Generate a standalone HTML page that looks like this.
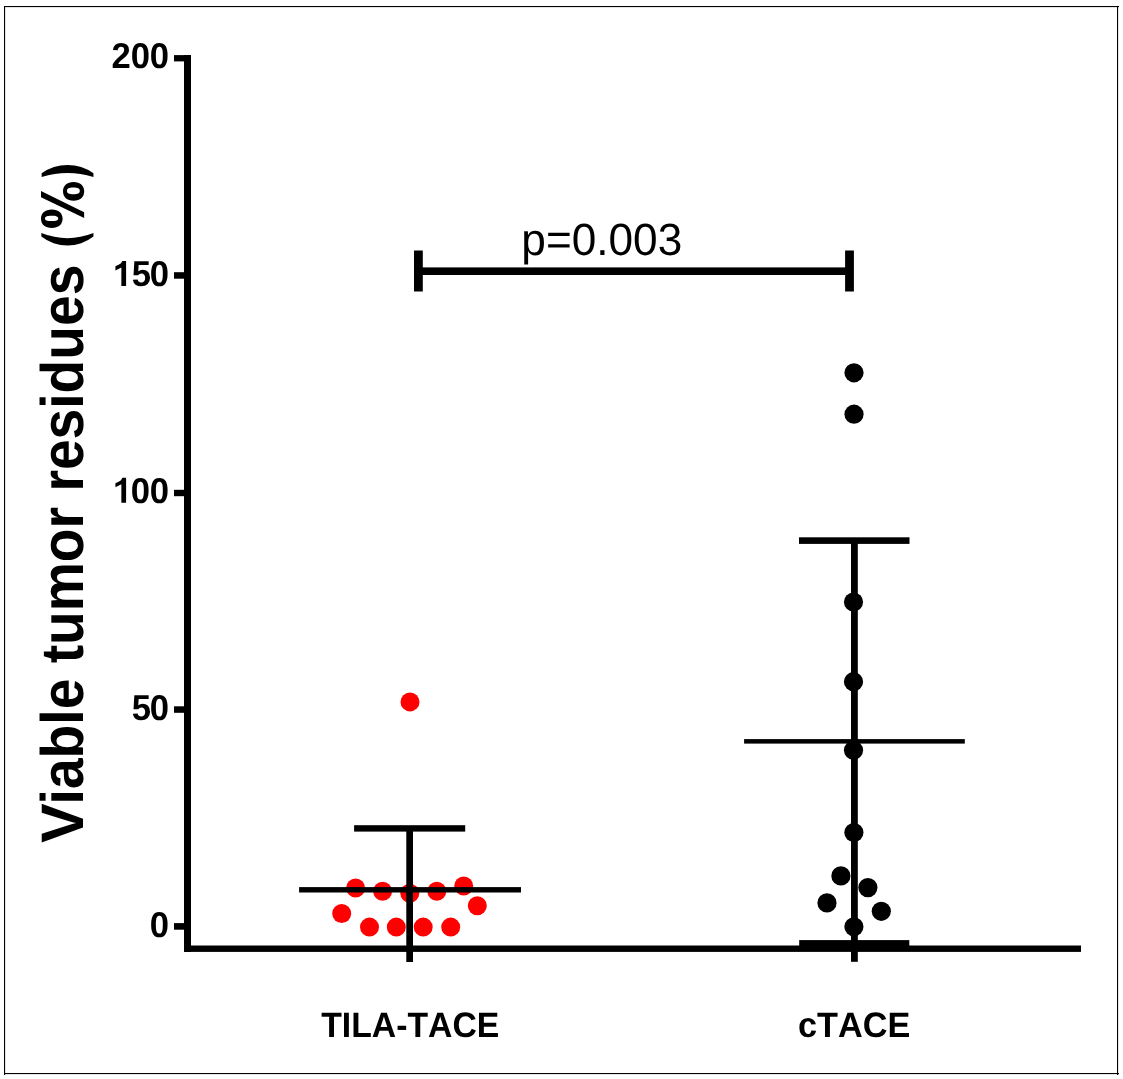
<!DOCTYPE html>
<html><head><meta charset="utf-8">
<style>
html,body{margin:0;padding:0;background:#fff;}
body{width:1123px;height:1079px;overflow:hidden;position:relative;}
svg{position:absolute;left:0;top:0;will-change:transform;}
text{font-family:"Liberation Sans",sans-serif;text-rendering:geometricPrecision;font-kerning:none;}
</style></head>
<body>
<svg width="1123" height="1079" viewBox="0 0 1123 1079">
<g fill="#000">
<rect x="4" y="6" width="1115" height="1.1"/>
<rect x="4" y="6" width="1.1" height="1069"/>
<rect x="1117" y="6" width="1.1" height="1069"/>
<rect x="4" y="1073" width="1115" height="1.1"/>
</g>
<!-- axes -->
<rect x="184" y="55" width="7" height="897" fill="#000"/>
<rect x="184" y="945.5" width="897" height="6.4" fill="#000"/>
<!-- ticks -->
<rect x="174" y="55.1" width="12" height="6.3" fill="#000"/>
<rect x="174" y="272.2" width="12" height="6.5" fill="#000"/>
<rect x="174" y="489.8" width="12" height="6.4" fill="#000"/>
<rect x="174" y="706.3" width="12" height="6.5" fill="#000"/>
<rect x="174" y="923.1" width="12" height="6.6" fill="#000"/>
<!-- tick labels -->
<g font-weight="bold" font-size="35.9" text-anchor="middle">
<text transform="translate(121.1,68.4) scale(0.965,1)">2</text>
<text transform="translate(140.3,68.4) scale(0.965,1)">0</text>
<text transform="translate(159.4,68.4) scale(0.965,1)">0</text>
<text transform="translate(141.4,286.1) scale(0.965,1)">5</text>
<text transform="translate(159.4,286.1) scale(0.965,1)">0</text>
<text transform="translate(140.3,502.7) scale(0.965,1)">0</text>
<text transform="translate(159.4,502.7) scale(0.965,1)">0</text>
<text transform="translate(141.4,720) scale(0.965,1)">5</text>
<text transform="translate(159.4,720) scale(0.965,1)">0</text>
<text transform="translate(159.4,937) scale(0.965,1)">0</text>
</g>
<g fill="#000">
<path transform="translate(126.1,285.95)" d="M0,-25 L0,0 L-4.74,0 L-4.74,-18.4 L-10.68,-15.4 L-10.68,-19.6 C-8.6,-20.4 -6.3,-21.5 -5.1,-22.6 L-3.7,-25 Z"/>
<path transform="translate(126.1,502.75)" d="M0,-25 L0,0 L-4.74,0 L-4.74,-18.4 L-10.68,-15.4 L-10.68,-19.6 C-8.6,-20.4 -6.3,-21.5 -5.1,-22.6 L-3.7,-25 Z"/>
</g>
<!-- y label -->
<text font-weight="bold" font-size="60" transform="translate(82.6,843.1) rotate(-90) scale(0.99,1)">V</text>
<text font-weight="bold" font-size="60" transform="translate(82.6,804.45) rotate(-90) scale(0.92,1)">iable tumor residues</text>
<g fill="#000" fill-rule="evenodd">
<path d="M41.37,233.1 A71.6,71.6 0 0,0 93.45,233.1 L93.45,236.57 A42.3,42.3 0 0,1 41.37,236.57 Z"/>
<path d="M41.65,173.3 A45,45 0 0,1 93.45,173.3 L93.45,177.07 A84.4,84.4 0 0,0 41.65,177.07 Z"/>
<path d="M63.00,191.35 C63.00,185.49 67.03,181.90 73.60,181.90 C80.17,181.90 84.20,185.49 84.20,191.35 C84.20,197.21 80.17,200.80 73.60,200.80 C67.03,200.80 63.00,197.21 63.00,191.35 Z M67.00,190.90 C67.00,188.59 68.92,187.60 73.40,187.60 C77.88,187.60 79.80,188.59 79.80,190.90 C79.80,193.21 77.88,194.20 73.40,194.20 C68.92,194.20 67.00,193.21 67.00,190.90 Z "/>
<path d="M41.00,218.85 C41.00,213.11 45.10,209.60 51.80,209.60 C58.50,209.60 62.60,213.11 62.60,218.85 C62.60,224.59 58.50,228.10 51.80,228.10 C45.10,228.10 41.00,224.59 41.00,218.85 Z M45.00,218.40 C45.00,216.51 46.98,215.70 51.60,215.70 C56.22,215.70 58.20,216.51 58.20,218.40 C58.20,220.29 56.22,221.10 51.60,221.10 C46.98,221.10 45.00,220.29 45.00,218.40 Z "/>
<path d="M41,191.1 L84.15,212.2 L84.15,218 L41,197.3 Z"/>
</g>
<!-- x labels -->
<g font-weight="bold" font-size="35.3">
<text transform="translate(321.25,1037) scale(0.956,1)">TILA-TACE</text>
<text transform="translate(797.9,1037) scale(0.971,1)">cTACE</text>
</g>
<!-- significance -->
<rect x="416" y="267.4" width="433" height="7.6" fill="#000"/>
<rect x="414" y="250.5" width="8.8" height="41" fill="#000"/>
<rect x="845.1" y="250.5" width="8.8" height="41" fill="#000"/>
<text transform="translate(521.3,255) scale(0.978,1)" font-size="45.2">p=0.003</text>
<!-- group 1 dots -->
<g fill="#f00">
<circle cx="341.7" cy="913.5" r="9.5"/>
<circle cx="355.6" cy="888" r="9.5"/>
<circle cx="382.6" cy="891.3" r="9.5"/>
<circle cx="409.8" cy="893.2" r="9.5"/>
<circle cx="436.8" cy="891.3" r="9.5"/>
<circle cx="463.7" cy="886" r="9.5"/>
<circle cx="477.3" cy="905.7" r="9.5"/>
<circle cx="369.5" cy="927.1" r="9.5"/>
<circle cx="396.3" cy="927.1" r="9.5"/>
<circle cx="423.2" cy="927.1" r="9.5"/>
<circle cx="450.7" cy="927.1" r="9.5"/>
<circle cx="410" cy="701.9" r="9.5"/>
</g>
<!-- group 1 bars -->
<g fill="#000">
<rect x="406.3" y="828" width="6.7" height="134"/>
<rect x="354.1" y="825.2" width="111.1" height="6.4"/>
<rect x="299.1" y="887.1" width="221.9" height="5.4"/>
</g>
<!-- group 2 dots -->
<g fill="#000">
<circle cx="854" cy="372.8" r="9.6"/>
<circle cx="854" cy="414.2" r="9.6"/>
<circle cx="853.5" cy="602" r="9.6"/>
<circle cx="853.5" cy="681.7" r="9.6"/>
<circle cx="853.5" cy="750.3" r="9.6"/>
<circle cx="853.9" cy="832.5" r="9.6"/>
<circle cx="840.9" cy="875.9" r="9.6"/>
<circle cx="867.9" cy="887.6" r="9.6"/>
<circle cx="827" cy="902.9" r="9.6"/>
<circle cx="881.3" cy="911.3" r="9.6"/>
<circle cx="853.9" cy="926.8" r="9.6"/>
<rect x="851" y="540" width="6.8" height="421.8"/>
<rect x="799" y="537.3" width="110.5" height="6.6"/>
<rect x="744.1" y="739.1" width="220.7" height="4.5"/>
<rect x="799.2" y="940.1" width="110.1" height="6.5"/>
</g>
</svg>
</body></html>
